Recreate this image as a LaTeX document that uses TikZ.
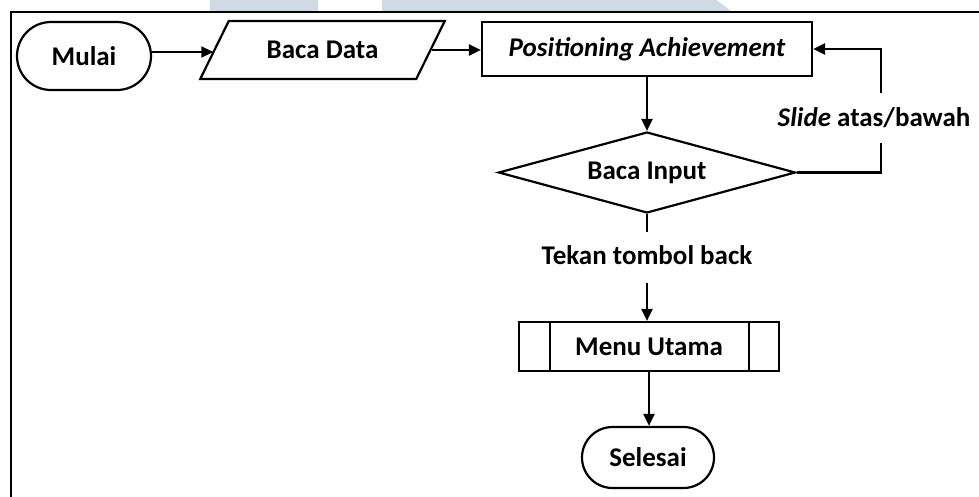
\documentclass[tikz,border=0pt]{standalone}
\usepackage{fontspec}
\setmainfont{Carlito}
\usetikzlibrary{shapes.geometric,shapes.misc,arrows.meta}

\definecolor{wmark}{RGB}{208,218,228}

\tikzset{
  flow/.style={draw=black, line width=2.2pt, fill=white, inner sep=2pt,
    font=\fontsize{27}{32}\selectfont\bfseries},
  terminal/.style={flow, rounded rectangle},
  iobox/.style={flow, trapezium, trapezium left angle=51, trapezium right angle=129,
    trapezium stretches=true},
  procbox/.style={flow, rectangle},
  decision/.style={flow, diamond, aspect=3.6},
  lbl/.style={inner sep=1pt, font=\fontsize{27}{32}\selectfont\bfseries},
  arr/.style={line width=2.2pt, -{Triangle[length=12pt,width=11pt]}},
  ln/.style={line width=2.2pt}
}

\begin{document}
\begin{tikzpicture}[x=1pt,y=-1pt]
  \useasboundingbox (0,0) rectangle (979,496);
  \begin{scope}
    \clip (0,0) rectangle (979,496);
    % faint shapes along the top edge
    \fill[wmark] (210,0) rectangle (318,11);
    \fill[wmark] (382,0) -- (716,0) .. controls (722,4) .. (731,11) -- (382,11) -- cycle;
    % outer frame
    \draw[line width=1.6pt] (11,990) -- (11,12) -- (1990,12);
  \end{scope}

  % nodes
  \node[terminal, minimum width=138pt, minimum height=68pt] (mulai) at (84,56) {Mulai};
  \node[iobox, minimum width=245pt, minimum height=58pt] (data) at (322.5,50) {Baca Data};
  \node[procbox, minimum width=330pt, minimum height=54pt] (pos) at (647,49)
    {\itshape Positioning Achievement};
  \node[decision, minimum width=297pt, minimum height=81pt, inner sep=0pt] (input) at (647,172.5) {Baca Input};
  \node[procbox, minimum width=260pt, minimum height=49pt] (menu) at (649,346.5) {Menu Utama};
  \node[terminal, minimum width=136pt, minimum height=61pt] (selesai) at (648,457.5) {Selesai};

  % inner bars of the predefined process
  \draw[ln] ([xshift=32pt]menu.north west) -- ([xshift=32pt]menu.south west);
  \draw[ln] ([xshift=-31pt]menu.north east) -- ([xshift=-31pt]menu.south east);

  % branch labels
  \node[lbl] (slide) at (874,118) {\itshape Slide\/\upshape{} atas/bawah};
  \node[lbl] (back) at (647,255) {Tekan tombol back};

  % helper points on the loop and the exit branch
  \coordinate (m1) at ([yshift=4pt]mulai.east);
  \coordinate (r1) at (881,143);
  \coordinate (r2) at (881,93);
  \coordinate (b1) at (647,232);
  \coordinate (b2) at (647,283);

  % connectors
  \draw[arr] (m1) -- (m1 -| data.west);
  \draw[arr] (data.east) -- (data.east -| pos.west);
  \draw[arr] (pos.south) -- (input.north);
  \draw[ln] (input.east) -| (r1);
  \draw[arr] (r2) |- (pos.east);
  \draw[ln] (input.south) -- (b1);
  \draw[arr] (b2) -- (b2 |- menu.north);
  \draw[arr] (menu.south) -- (menu.south |- selesai.north);
\end{tikzpicture}
\end{document}
